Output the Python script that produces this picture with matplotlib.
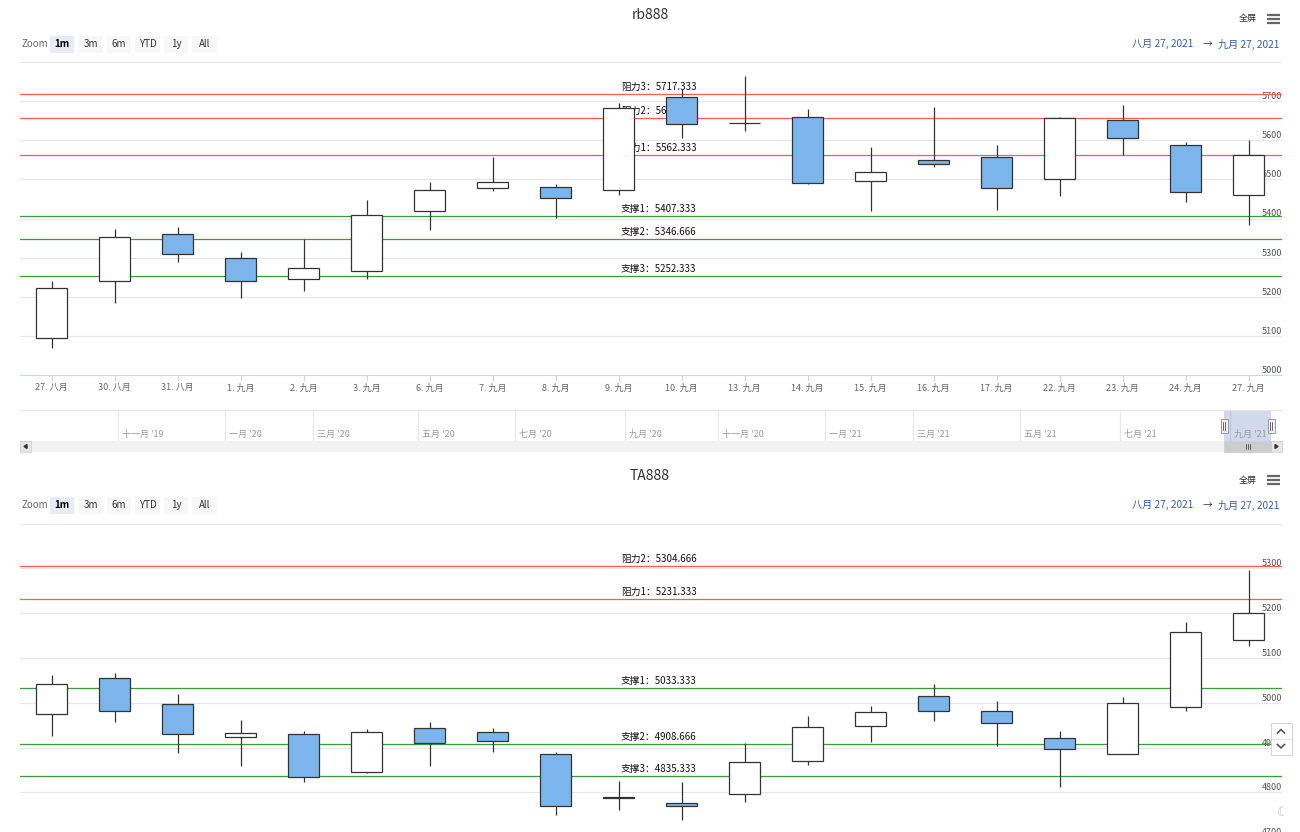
import matplotlib
matplotlib.use('Agg')
import matplotlib.pyplot as plt
import matplotlib.transforms as mtransforms
from matplotlib.patches import Rectangle

plt.rcParams['font.family'] = ['Noto Sans CJK SC', 'DejaVu Sans']

W, H = 1300, 832

# ---------------- data ----------------
dates = ['27. 八月', '30. 八月', '31. 八月', '1. 九月', '2. 九月', '3. 九月', '6. 九月',
         '7. 九月', '8. 九月', '9. 九月', '10. 九月', '13. 九月', '14. 九月', '15. 九月',
         '16. 九月', '17. 九月', '22. 九月', '23. 九月', '24. 九月', '27. 九月']

rb_open = [5094, 5241, 5361, 5298, 5245, 5266, 5418, 5479, 5481, 5474,
           5711, 5643, 5660, 5497, 5550, 5557, 5500, 5651, 5589, 5460]
rb_high = [5239, 5373, 5377, 5315, 5348, 5448, 5494, 5558, 5488, 5696,
           5730, 5764, 5681, 5582, 5685, 5588, 5660, 5689, 5596, 5600]
rb_low = [5068, 5185, 5288, 5197, 5215, 5245, 5370, 5471, 5401, 5461,
          5606, 5623, 5487, 5418, 5532, 5423, 5457, 5562, 5441, 5384]
rb_close = [5222, 5353, 5308, 5241, 5273, 5409, 5473, 5494, 5453, 5683,
            5642, 5644, 5491, 5519, 5540, 5478, 5656, 5605, 5468, 5563]

ta_open = [4975, 5056, 4996, 4923, 4930, 4845, 4943, 4935, 4886, 4788,
           4776, 4796, 4870, 4948, 5015, 4982, 4921, 4886, 4991, 5139]
ta_high = [5062, 5067, 5019, 4961, 4937, 4941, 4957, 4944, 4890, 4825,
           4823, 4910, 4971, 4993, 5042, 5004, 4937, 5013, 5180, 5296]
ta_low = [4926, 4958, 4887, 4858, 4824, 4844, 4858, 4890, 4749, 4761,
          4738, 4778, 4861, 4912, 4959, 4903, 4812, 4885, 4982, 5127]
ta_close = [5042, 4982, 4931, 4932, 4834, 4934, 4909, 4915, 4769, 4788,
            4769, 4868, 4946, 4979, 4982, 4955, 4897, 4999, 5158, 5200]

rb_level_names = ['阻力3', '阻力2', '阻力1', '支撑1', '支撑2', '支撑3']
rb_level_values = [5717.333, 5656.666, 5562.333, 5407.333, 5346.666, 5252.333]
ta_level_names = ['阻力2', '阻力1', '支撑1', '支撑2', '支撑3']
ta_level_values = [5304.666, 5231.333, 5033.333, 4908.666, 4835.333]

rb_yticks = [5000, 5100, 5200, 5300, 5400, 5500, 5600, 5700, 5800]
ta_yticks = [4700, 4800, 4900, 5000, 5100, 5200, 5300, 5400]

nav_month_labels = ["十一月 '19", "一月 '20", "三月 '20", "五月 '20", "七月 '20", "九月 '20",
                    "十一月 '20", "一月 '21", "三月 '21", "五月 '21", "七月 '21", "九月 '21"]
nav_month_index = [41, 86, 123, 167, 208, 254, 293, 338, 375, 420, 462, 508]
nav_total = 530
nav_window = (505.7, 525.4)

zoom_buttons = ['1m', '3m', '6m', 'YTD', '1y', 'All']
date_from, date_to = '八月 27, 2021', '九月 27, 2021'

# ---------------- figure ----------------
fig = plt.figure(figsize=(W / 100, H / 100), dpi=100)
fig.patch.set_facecolor('white')


def px_axes(x0, y0, x1, y1):
    return fig.add_axes([x0 / W, 1 - y1 / H, (x1 - x0) / W, (y1 - y0) / H])


ov = fig.add_axes([0, 0, 1, 1])
ov.set_xlim(0, W)
ov.set_ylim(H, 0)
ov.axis('off')
ov.set_zorder(10)
ov.patch.set_alpha(0)

UP_FILL, DOWN_FILL = 'white', '#7cb5ec'
EDGE = '#333333'


def draw_chart(ax, o, h, l, c, names, values, yticks, ymin, ymax, show_x):
    n = len(o)
    ax.set_xlim(-0.5, n - 0.5 + 2 / 63)
    ax.set_ylim(ymin, ymax)
    ax.set_facecolor('white')
    for s in ['top', 'right', 'left']:
        ax.spines[s].set_visible(False)
    ax.spines['bottom'].set_color('#ccd6eb')
    ax.spines['bottom'].set_linewidth(0.8)
    ax.set_yticks([])
    # grid
    for v in yticks:
        if v > ymin:
            ax.axhline(v, color='#e6e6e6', lw=0.8, zorder=0)
    ytrans = mtransforms.blended_transform_factory(ax.transAxes, ax.transData)
    ylab = mtransforms.offset_copy(ytrans, fig=fig, x=0, y=2, units='dots')
    for v in yticks[:-1]:
        ax.text(1.0, v, str(v), transform=ylab, ha='right', va='baseline',
                fontsize=6.5, color='#555555', zorder=1)
    # level lines
    lab = mtransforms.offset_copy(ytrans, fig=fig, x=0, y=4, units='dots')
    for name, v in zip(names, values):
        col = '#ff5a5a' if name.startswith('阻') else '#3c9a3c'
        ax.axhline(v, color=col, lw=0.9, zorder=1)
        ax.text(0.476, v, f'{name}：{v:.3f}', transform=lab, ha='left', va='baseline',
                fontsize=7, color='#111111', zorder=2)
    # candles
    for i in range(n):
        up = c[i] >= o[i]
        lo, hi = min(o[i], c[i]), max(o[i], c[i])
        ax.vlines(i, l[i], lo, color=EDGE, lw=0.9, zorder=3)
        ax.vlines(i, hi, h[i], color=EDGE, lw=0.9, zorder=3)
        ax.add_patch(Rectangle((i - 0.25, lo), 0.5, max(hi - lo, 0.5),
                               facecolor=UP_FILL if up else DOWN_FILL,
                               edgecolor=EDGE, lw=0.9, zorder=4))
    if show_x:
        ax.set_xticks(range(n))
        ax.set_xticklabels(dates, fontsize=6.5, color='#666666')
        ax.tick_params(axis='x', length=4.5, color='#ccd6eb', width=0.8, pad=1.5)
    else:
        ax.set_xticks([])


def draw_header(y_title, title, y_row):
    ov.text(650, y_title, title, ha='center', va='center', fontsize=10, color='#333333')
    ov.text(1257, y_title + 4, '全屏', ha='right', va='center', fontsize=6.5, color='#333333')
    for dy in (-4, 0, 4):
        ov.plot([1267, 1280], [y_title + 4 + dy] * 2, color='#666666', lw=1.6,
                solid_capstyle='butt')
    ov.text(21, y_row, 'Zoom', ha='left', va='center', fontsize=7, color='#666666')
    x = 50
    widths = [24, 24, 24, 25, 24, 25]
    gaps = [5, 4, 4, 4, 4, 0]
    for k, (b, w) in enumerate(zip(zoom_buttons, widths)):
        sel = k == 0
        ov.add_patch(Rectangle((x, y_row - 8.5), w, 17, facecolor='#e6ebf5' if sel else '#f7f7f7',
                               edgecolor='none'))
        ov.text(x + w / 2, y_row, b, ha='center', va='center', fontsize=7,
                color='#000000' if sel else '#333333', weight='bold' if sel else 'normal')
        x += w + gaps[k]
    ov.text(1132, y_row, date_from, ha='left', va='center', fontsize=7.3, color='#335cad')
    ov.text(1207, y_row, '→', ha='center', va='center', fontsize=7, color='#333333')
    ov.text(1279, y_row, date_to, ha='right', va='center', fontsize=7.3, color='#335cad')


# ---------------- top chart ----------------
draw_header(15, 'rb888', 44)
ax1 = px_axes(20, 62, 1282, 375)
draw_chart(ax1, rb_open, rb_high, rb_low, rb_close, rb_level_names, rb_level_values,
           rb_yticks, 5000, 5800, True)

# navigator
nav = px_axes(20, 410, 1282, 441)
nav.set_xlim(0, nav_total)
nav.set_ylim(0, 1)
nav.set_xticks([])
nav.set_yticks([])
for s in ['bottom', 'right', 'left']:
    nav.spines[s].set_visible(False)
nav.spines['top'].set_color('#e6e6e6')
nav.spines['top'].set_linewidth(0.8)
for idx, lbl in zip(nav_month_index, nav_month_labels):
    nav.axvline(idx, color='#e6e6e6', lw=0.8, zorder=0)
    nav.text(idx, 0.2, '  ' + lbl, ha='left', va='center', fontsize=6.5, color='#999999')
nav.axvspan(nav_window[0], nav_window[1], color=(102 / 255, 133 / 255, 194 / 255), alpha=0.3,
            lw=0, zorder=1)
nav_px = lambda v: 20 + v * (1262 / nav_total)
for v in nav_window:
    xp = nav_px(v)
    ov.add_patch(Rectangle((xp - 3.5, 419), 7, 14, facecolor='#f2f2f2', edgecolor='#999999', lw=0.7))
    ov.plot([xp - 1, xp - 1], [422, 430], color='#333333', lw=0.5)
    ov.plot([xp + 1, xp + 1], [422, 430], color='#333333', lw=0.5)

# scrollbar
ov.add_patch(Rectangle((20, 441), 1262, 11, facecolor='#f2f2f2', edgecolor='none'))
ov.add_patch(Rectangle((20, 441), 11, 11, facecolor='#e6e6e6', edgecolor='#cccccc', lw=0.5))
ov.add_patch(Rectangle((1271, 441), 11, 11, facecolor='#e6e6e6', edgecolor='#cccccc', lw=0.5))
ov.fill([27, 24, 27], [444.5, 446.5, 448.5], color='#333333')
ov.fill([1275, 1278, 1275], [444.5, 446.5, 448.5], color='#333333')
x0s, x1s = nav_px(nav_window[0]), nav_px(nav_window[1])
ov.add_patch(Rectangle((x0s, 441), x1s - x0s, 11, facecolor='#cccccc', edgecolor='#cccccc', lw=0.5))
xc = (x0s + x1s) / 2
for dx in (-2, 0, 2):
    ov.plot([xc + dx, xc + dx], [444, 449], color='#333333', lw=0.5)

# ---------------- bottom chart ----------------
draw_header(476, 'TA888', 505)
ax2 = px_axes(20, 523.5, 1282, 837.1)
draw_chart(ax2, ta_open, ta_high, ta_low, ta_close, ta_level_names, ta_level_values,
           ta_yticks, 4700, 5400, False)
ax2.spines['bottom'].set_visible(False)

# up/down buttons and moon icon
ov.add_patch(Rectangle((1270.5, 723), 21, 32, facecolor='white', edgecolor='#cccccc', lw=0.6))
ov.plot([1270.5, 1291.5], [739, 739], color='#e0e0e0', lw=0.6)
ov.plot([1277.5, 1281, 1284.5], [733, 729.5, 733], color='#555555', lw=1.2)
ov.plot([1277.5, 1281, 1284.5], [744.5, 748, 744.5], color='#555555', lw=1.2)
ov.text(1283, 813, '☾', ha='center', va='center', fontsize=9, color='#bbbbbb',
        family=['DejaVu Sans'])

fig.savefig('out.png', dpi=100, facecolor='white')
